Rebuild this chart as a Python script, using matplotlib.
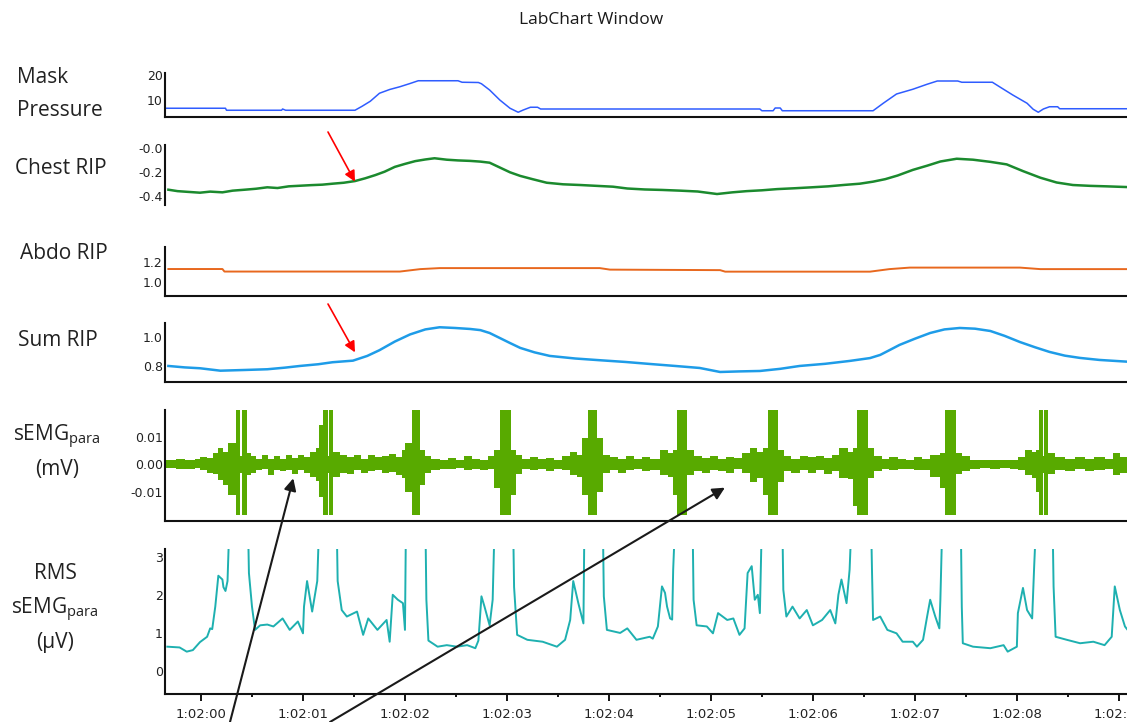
import matplotlib
matplotlib.use("Agg")
import matplotlib.pyplot as plt
from matplotlib.patches import ConnectionPatch

# ---- data (time in s after 1:02:00) ----
mask_t = [-0.35, 0.24, 0.25, 0.79, 0.80, 0.83, 1.51, 1.58, 1.66, 1.75, 1.85, 1.95, 2.05, 2.13,
          2.52, 2.56, 2.72, 2.75, 2.83, 2.93, 3.03, 3.11, 3.16, 3.23, 3.30, 3.33, 5.48, 5.50,
          5.61, 5.63, 5.68, 5.70, 6.59, 6.69, 6.82, 6.98, 7.12, 7.22, 7.42, 7.46, 7.76, 7.83,
          7.96, 8.10, 8.16, 8.21, 8.26, 8.32, 8.40, 8.42, 9.08]
mask_v = [6.7, 6.7, 5.9, 5.9, 6.4, 5.9, 5.9, 7.5, 9.5, 12.7, 14.2, 15.3, 16.6, 17.7,
          17.7, 17.1, 17.0, 16.5, 14.0, 10.0, 6.7, 5.1, 6.0, 7.1, 7.1, 6.4, 6.4, 5.7,
          5.7, 6.8, 6.8, 5.7, 5.7, 8.7, 12.4, 14.3, 16.3, 17.6, 17.6, 17.1, 17.1, 15.3,
          12.0, 8.7, 6.3, 5.1, 6.4, 7.3, 7.3, 6.5, 6.5]

chest_t = [-0.32, -0.23, -0.13, -0.01, 0.09, 0.21, 0.31, 0.43, 0.54, 0.65, 0.75, 0.86, 0.97,
           1.08, 1.19, 1.29, 1.40, 1.51, 1.61, 1.71, 1.80, 1.90, 2.00, 2.10, 2.20, 2.29, 2.41,
           2.52, 2.64, 2.74, 2.83, 2.93, 3.03, 3.13, 3.25, 3.39, 3.55, 3.72, 3.88, 4.04, 4.18,
           4.35, 4.52, 4.70, 4.87, 5.06, 5.21, 5.35, 5.50, 5.65, 5.82, 5.99, 6.15, 6.31, 6.46,
           6.59, 6.71, 6.83, 6.98, 7.12, 7.25, 7.41, 7.57, 7.74, 7.90, 8.06, 8.23, 8.39, 8.55,
           8.72, 8.88, 9.08]
chest_v = [-0.350, -0.362, -0.368, -0.375, -0.366, -0.372, -0.358, -0.350, -0.342, -0.330,
           -0.336, -0.322, -0.317, -0.312, -0.308, -0.300, -0.292, -0.278, -0.255, -0.228,
           -0.200, -0.160, -0.135, -0.112, -0.098, -0.088, -0.100, -0.106, -0.110, -0.116,
           -0.125, -0.165, -0.205, -0.235, -0.262, -0.292, -0.305, -0.311, -0.318, -0.325,
           -0.340, -0.348, -0.352, -0.358, -0.365, -0.386, -0.372, -0.362, -0.355, -0.345,
           -0.338, -0.330, -0.322, -0.310, -0.300, -0.283, -0.262, -0.232, -0.185, -0.150,
           -0.115, -0.092, -0.100, -0.118, -0.139, -0.195, -0.250, -0.290, -0.311, -0.318,
           -0.322, -0.328]

abdo_t = [-0.32, 0.21, 0.23, 1.95, 2.15, 2.34, 3.91, 4.01, 5.09, 5.14, 6.56, 6.75, 6.95,
          8.03, 8.23, 9.08]
abdo_v = [1.131, 1.131, 1.106, 1.106, 1.130, 1.140, 1.140, 1.125, 1.120, 1.105, 1.105,
          1.130, 1.145, 1.145, 1.130, 1.130]

sum_t = [-0.32, -0.16, -0.01, 0.19, 0.43, 0.65, 0.82, 0.97, 1.15, 1.29, 1.49, 1.63, 1.75,
         1.90, 2.05, 2.20, 2.34, 2.49, 2.64, 2.74, 2.83, 2.93, 3.03, 3.13, 3.27, 3.42, 3.67,
         3.91, 4.16, 4.40, 4.65, 4.89, 5.09, 5.28, 5.48, 5.68, 5.87, 6.12, 6.36, 6.56, 6.66,
         6.75, 6.85, 7.00, 7.15, 7.29, 7.44, 7.59, 7.74, 7.88, 8.03, 8.18, 8.32, 8.47, 8.62,
         8.81, 9.08]
sum_v = [0.800, 0.790, 0.784, 0.767, 0.772, 0.777, 0.788, 0.800, 0.812, 0.826, 0.837, 0.870,
         0.910, 0.970, 1.020, 1.055, 1.070, 1.065, 1.058, 1.050, 1.030, 0.995, 0.960, 0.926,
         0.895, 0.870, 0.852, 0.840, 0.828, 0.814, 0.800, 0.786, 0.758, 0.762, 0.765, 0.780,
         0.800, 0.815, 0.835, 0.855, 0.877, 0.910, 0.947, 0.990, 1.030, 1.055, 1.065, 1.060,
         1.044, 1.010, 0.967, 0.930, 0.898, 0.872, 0.856, 0.842, 0.830]

# sEMG envelope (upper / lower edge of the trace, mV)
emg_t = [-0.35, -0.25, -0.16, -0.06, -0.01, 0.06, 0.12, 0.17, 0.22, 0.26, 0.34, 0.385, 0.40,
         0.45, 0.49, 0.54, 0.60, 0.66, 0.72, 0.77, 0.83, 0.89, 0.95, 1.01, 1.07, 1.13, 1.16,
         1.20, 1.245, 1.255, 1.29, 1.36, 1.43, 1.50, 1.57, 1.64, 1.71, 1.77, 1.84, 1.91, 1.97,
         2.00, 2.07, 2.15, 2.20, 2.26, 2.34, 2.42, 2.50, 2.58, 2.66, 2.74, 2.81, 2.87, 2.93,
         3.04, 3.09, 3.15, 3.23, 3.30, 3.38, 3.46, 3.54, 3.62, 3.69, 3.74, 3.79, 3.88, 3.94,
         4.01, 4.09, 4.17, 4.25, 4.32, 4.40, 4.50, 4.58, 4.63, 4.67, 4.77, 4.83, 4.91, 4.99,
         5.07, 5.15, 5.23, 5.30, 5.38, 5.45, 5.51, 5.56, 5.66, 5.72, 5.79, 5.87, 5.95, 6.03,
         6.11, 6.19, 6.26, 6.34, 6.39, 6.43, 6.54, 6.60, 6.68, 6.75, 6.83, 6.91, 6.99, 7.07,
         7.15, 7.25, 7.30, 7.40, 7.46, 7.54, 7.64, 7.74, 7.83, 7.93, 8.01, 8.08, 8.15, 8.19,
         8.22, 8.255, 8.265, 8.31, 8.37, 8.47, 8.57, 8.67, 8.76, 8.86, 8.94, 9.01, 9.08]
emg_hi = [.0015, .0018, .0014, .0020, .0028, .0022, .0040, .0060, .0045, .0078, .021, .003, .021,
          .0040, .0030, .0018, .0034, .0020, .0030, .0018, .0032, .0022, .0034, .0028, .0045,
          .0060, .0143, .021, .003, .021, .0045, .0035, .0025, .0032, .0020, .0034, .0025,
          .0030, .0036, .0028, .0050, .0078, .021, .0050, .0030, .0018, .0015, .0022, .0016,
          .0030, .0018, .0015, .0030, .0050, .021, .0050, .0035, .0020, .0028, .0018, .0022,
          .0016, .0030, .0045, .0035, .0096, .021, .0096, .0035, .0025, .0018, .0030, .0020,
          .0025, .0018, .0052, .0040, .0052, .021, .0052, .0030, .0022, .0030, .0018, .0028,
          .0022, .0040, .0060, .0045, .0060, .021, .0050, .0030, .0020, .0030, .0025, .0030,
          .0022, .0035, .0060, .0045, .0060, .021, .0060, .0030, .0020, .0025, .0018, .0015,
          .0025, .0018, .0035, .0040, .021, .0040, .0030, .0015, .0016, .0014, .0016, .0015,
          .0025, .0052, .0045, .0052, .021, .003, .021, .0040, .0025, .0020, .0025, .0018,
          .0025, .0020, .0040, .0025, .0025]
emg_lo = [-.0015, -.0016, -.0018, -.0015, -.0020, -.0030, -.0035, -.0057, -.0075, -.0110,
          -.0185, -.003, -.0185, -.0040, -.0032, -.0020, -.0018, -.0039, -.0020, -.0025,
          -.0022, -.0036, -.0020, -.0030, -.0045, -.0060, -.0120, -.0185, -.003, -.0185,
          -.0046, -.0030, -.0035, -.0022, -.0030, -.0025, -.0020, -.0030, -.0028, -.0040,
          -.0050, -.0100, -.0185, -.0075, -.0030, -.0020, -.0016, -.0018, -.0015, -.0020,
          -.0016, -.0020, -.0018, -.0087, -.0185, -.0110, -.0035, -.0018, -.0022, -.0016,
          -.0025, -.0018, -.0020, -.0040, -.0045, -.0110, -.0185, -.0100, -.0030, -.0022,
          -.0030, -.0020, -.0018, -.0025, -.0020, -.0039, -.0045, -.0110, -.0185, -.0040,
          -.0025, -.0030, -.0020, -.0025, -.0030, -.0018, -.0030, -.0065, -.0050, -.0110,
          -.0185, -.0065, -.0025, -.0030, -.0022, -.0030, -.0020, -.0035, -.0025, -.0050,
          -.0055, -.0150, -.0185, -.0050, -.0025, -.0018, -.0020, -.0016, -.0018, -.0020,
          -.0022, -.0045, -.0087, -.0185, -.0035, -.0025, -.0016, -.0015, -.0016, -.0014,
          -.0016, -.0020, -.0040, -.0050, -.0100, -.0185, -.003, -.0185, -.0035, -.0020,
          -.0025, -.0018, -.0025, -.0020, -.0018, -.0040, -.0030, -.0030]

# RMS sEMG (µV); 4.0 marks stretches that run off the top of the panel
rms_t = [-0.33, -0.21, -0.14, -0.11, -0.08, -0.01, 0.06, 0.09, 0.11, 0.14, 0.17, 0.21, 0.22,
         0.24, 0.26, 0.28, 0.46, 0.47, 0.50, 0.53, 0.58, 0.65, 0.71, 0.80, 0.87, 0.95, 1.00,
         1.01, 1.04, 1.09, 1.14, 1.16, 1.33, 1.34, 1.38, 1.43, 1.53, 1.59, 1.64, 1.73, 1.82,
         1.85, 1.88, 1.93, 1.98, 2.00, 2.01, 2.20, 2.21, 2.23, 2.32, 2.41, 2.51, 2.61, 2.69,
         2.72, 2.75, 2.78, 2.83, 2.86, 2.88, 3.06, 3.07, 3.10, 3.20, 3.35, 3.49, 3.57, 3.62,
         3.65, 3.70, 3.75, 3.76, 3.94, 3.95, 3.98, 4.11, 4.18, 4.27, 4.40, 4.43, 4.48, 4.52,
         4.55, 4.57, 4.60, 4.62, 4.63, 4.65, 4.82, 4.83, 4.86, 4.96, 5.02, 5.07, 5.16, 5.22,
         5.28, 5.33, 5.36, 5.40, 5.43, 5.46, 5.48, 5.50, 5.70, 5.71, 5.74, 5.80, 5.87, 5.94,
         6.00, 6.09, 6.17, 6.22, 6.25, 6.28, 6.33, 6.36, 6.38, 6.57, 6.58, 6.59, 6.66, 6.73,
         6.82, 6.88, 6.98, 7.02, 7.08, 7.12, 7.15, 7.20, 7.24, 7.25, 7.27, 7.45, 7.46, 7.47,
         7.57, 7.74, 7.87, 7.91, 8.00, 8.01, 8.06, 8.10, 8.15, 8.17, 8.19, 8.35, 8.36, 8.38,
         8.49, 8.62, 8.75, 8.86, 8.93, 8.96, 9.01, 9.06, 9.08]
rms_v = [0.64, 0.62, 0.51, 0.53, 0.55, 0.76, 0.90, 1.12, 1.10, 1.69, 2.50, 2.40, 2.20,
         2.10, 2.36, 4.0, 4.0, 2.57, 1.69, 1.08, 1.20, 1.22, 1.17, 1.38, 1.08, 1.30, 0.99,
         1.69, 2.36, 1.56, 2.36, 4.0, 4.0, 2.36, 1.60, 1.43, 1.56, 0.95, 1.38, 1.08, 1.34,
         0.77, 2.00, 1.87, 1.78, 1.08, 4.0, 4.0, 1.87, 0.80, 0.64, 0.68, 0.64, 0.68, 0.60,
         0.80, 1.96, 1.69, 1.20, 1.87, 4.0, 4.0, 2.20, 0.95, 0.82, 0.77, 0.64, 0.82, 1.34,
         2.36, 1.78, 1.25, 4.0, 4.0, 1.96, 1.08, 1.00, 1.12, 0.82, 0.90, 0.85, 1.17, 2.22,
         2.05, 1.69, 1.38, 1.35, 2.66, 4.0, 4.0, 1.87, 1.20, 1.17, 0.99, 1.52, 1.34, 1.38,
         0.95, 1.12, 2.57, 2.75, 1.87, 2.00, 1.52, 4.0, 4.0, 2.13, 1.43, 1.69, 1.38, 1.60,
         1.20, 1.34, 1.60, 1.25, 2.00, 2.40, 1.78, 2.66, 4.0, 4.0, 2.57, 1.34, 1.43, 1.08,
         0.99, 0.77, 0.77, 0.64, 0.82, 1.43, 1.87, 1.43, 1.12, 1.87, 4.0, 4.0, 1.69, 0.73,
         0.64, 0.60, 0.68, 0.51, 0.64, 1.52, 2.18, 1.60, 1.38, 2.76, 4.0, 4.0, 2.22, 0.90,
         0.82, 0.73, 0.77, 0.68, 0.90, 2.22, 1.60, 1.17, 1.10]

time_ticks = [0, 1, 2, 3, 4, 5, 6, 7, 8, 9]
time_labels = ["1:02:00", "1:02:01", "1:02:02", "1:02:03", "1:02:04",
               "1:02:05", "1:02:06", "1:02:07", "1:02:08", "1:02:09"]
half_ticks = [0.5, 1.5, 2.5, 3.5, 4.5, 5.5, 6.5, 7.5, 8.5]

# ---- layout ----
W, H = 1127, 722
plt.rcParams['font.family'] = ['Open Sans', 'DejaVu Sans']
fig = plt.figure(figsize=(W / 100, H / 100), dpi=100)

X_LEFT = 165
T0, T1 = -0.353, 9.08
TICK_COLOR = '#222222'


def panel(top, bottom, ylim, yticks, ylabels, show_bottom=True):
    ax = fig.add_axes([X_LEFT / W, 1 - bottom / H, (W - X_LEFT) / W, (bottom - top) / H])
    ax.set_facecolor('none')
    ax.set_xlim(T0, T1)
    ax.set_ylim(*ylim)
    ax.spines['top'].set_visible(False)
    ax.spines['right'].set_visible(False)
    ax.spines['bottom'].set_visible(show_bottom)
    for s in ('left', 'bottom'):
        ax.spines[s].set_linewidth(1.5)
        ax.spines[s].set_color('#111111')
    ax.set_yticks(yticks)
    ax.set_yticklabels(ylabels, fontfamily='DejaVu Sans')
    ax.tick_params(axis='y', length=0, pad=1.5, labelsize=9, labelcolor=TICK_COLOR)
    ax.tick_params(axis='x', which='both', bottom=False, labelbottom=False)
    return ax


ax_mask = panel(73, 116.7, (3.32, 20.8), [10, 20], ["10", "20"])
ax_mask.plot(mask_t, mask_v, color='#2f5cff', lw=1.1)

ax_chest = panel(145, 205, (-0.4775, 0.0225), [0, -0.2, -0.4], ["-0.0", "-0.2", "-0.4"],
                 show_bottom=False)
ax_chest.plot(chest_t, chest_v, color='#1b8a2e', lw=1.8)

ax_abdo = panel(247, 295.7, (0.868, 1.348), [1.0, 1.2], ["1.0", "1.2"])
ax_abdo.plot(abdo_t, abdo_v, color='#e8681e', lw=1.4)

ax_sum = panel(323, 382.3, (0.686, 1.0997), [0.8, 1.0], ["0.8", "1.0"])
ax_sum.plot(sum_t, sum_v, color='#1e9ce8', lw=1.8)

ax_emg = panel(410, 521, (-0.0206, 0.0197), [-0.01, 0.0, 0.01], ["-0.01", "0.00", "0.01"])
ax_emg.fill_between(emg_t, emg_lo, emg_hi, step='post', color='#58aa00', lw=0)

ax_rms = panel(549, 694, (-0.6, 3.2), [0, 1, 2, 3], ["0", "1", "2", "3"])
ax_rms.plot(rms_t, rms_v, color='#1eb0b0', lw=1.4)
ax_rms.set_xticks(time_ticks)
ax_rms.set_xticklabels(time_labels, fontfamily='DejaVu Sans')
ax_rms.set_xticks(half_ticks, minor=True)
ax_rms.tick_params(axis='x', which='major', bottom=True, labelbottom=True, direction='out',
                   length=5, width=1.3, pad=5, labelsize=9.5, labelcolor=TICK_COLOR)
ax_rms.tick_params(axis='x', which='minor', bottom=True, direction='out', length=2.5, width=1.3)

# ---- text ----
fig.text(591 / W, 1 - 20 / H, "LabChart Window", ha='center', va='center',
         fontsize=12.5, color='#1a1a1a')

label_kw = dict(fontsize=15, color='#222222', va='baseline')
fig.text(17 / W, 1 - 83 / H, "Mask", ha='left', **label_kw)
fig.text(17 / W, 1 - 116 / H, "Pressure", ha='left', **label_kw)
fig.text(15 / W, 1 - 174 / H, "Chest RIP", ha='left', **label_kw)
fig.text(20 / W, 1 - 259 / H, "Abdo RIP", ha='left', **label_kw)
fig.text(18 / W, 1 - 346 / H, "Sum RIP", ha='left', **label_kw)
fig.text(57 / W, 1 - 441 / H, r"sEMG$_{\mathregular{para}}$", ha='center', **label_kw)
fig.text(57 / W, 1 - 475 / H, "(mV)", ha='center', **label_kw)
fig.text(55 / W, 1 - 579 / H, "RMS", ha='center', **label_kw)
fig.text(55 / W, 1 - 614 / H, r"sEMG$_{\mathregular{para}}$", ha='center', **label_kw)
fig.text(55 / W, 1 - 648 / H, "(µV)", ha='center', **label_kw)

# ---- arrows ----
def arrow(tail_px, ax, tip, color, lw, scale):
    con = ConnectionPatch(xyA=(tail_px[0], H - tail_px[1]), coordsA='figure pixels',
                          xyB=tip, coordsB=ax.transData, arrowstyle='-|>',
                          color=color, lw=lw, mutation_scale=scale, zorder=10)
    fig.add_artist(con)


arrow((328, 132), ax_chest, (1.51, -0.283), 'red', 1.2, 16)
arrow((328, 304), ax_sum, (1.51, 0.895), 'red', 1.2, 16)
arrow((230, 722), ax_emg, (0.905, -0.0051), '#1a1a1a', 1.5, 18)
arrow((330, 722), ax_emg, (5.137, -0.0085), '#1a1a1a', 1.5, 18)

fig.savefig("out.png", dpi=100)
